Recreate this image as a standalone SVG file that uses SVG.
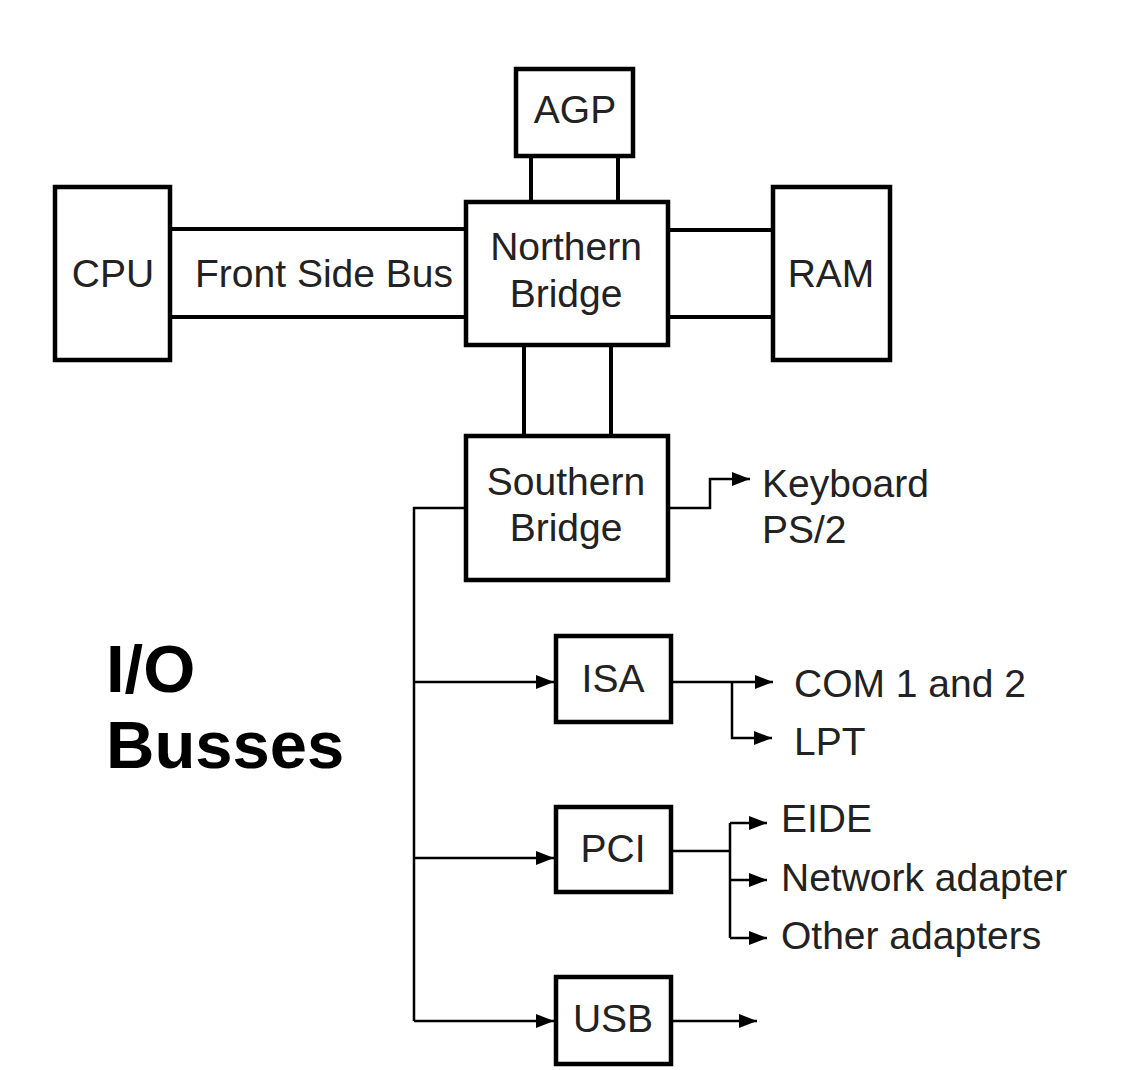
<svg xmlns="http://www.w3.org/2000/svg" width="1123" height="1070" viewBox="0 0 1123 1070">
<style>
.box{fill:#fff;stroke:#000;stroke-width:4.5}
.t{font-family:"Liberation Sans",Arial,sans-serif;font-size:39px;fill:#222}
.c{text-anchor:middle}
.thick{stroke:#000;stroke-width:4;fill:none}
.thin{stroke:#000;stroke-width:2.5;fill:none}
.arr{marker-end:url(#ah)}
.big{font-family:"Liberation Sans",Arial,sans-serif;font-size:67px;font-weight:bold;fill:#000}
</style>
<defs>
<marker id="ah" viewBox="0 0 18 14" refX="18" refY="7" markerWidth="18" markerHeight="14" markerUnits="userSpaceOnUse" orient="auto">
<path d="M0,0 L18,7 L0,14 z" fill="#000"/>
</marker>
</defs>
<rect width="1123" height="1070" fill="#fff"/>
<g id="connectors">
<line class="thick" x1="531" y1="157" x2="531" y2="201"/>
<line class="thick" x1="618" y1="157" x2="618" y2="201"/>
<line class="thick" x1="171" y1="229" x2="465" y2="229"/>
<line class="thick" x1="171" y1="317" x2="465" y2="317"/>
<line class="thick" x1="669" y1="230" x2="772" y2="230"/>
<line class="thick" x1="669" y1="317" x2="772" y2="317"/>
<line class="thick" x1="524" y1="346" x2="524" y2="435"/>
<line class="thick" x1="611" y1="346" x2="611" y2="435"/>
<path class="thin" d="M464 508 H414 V1021"/>
<path class="thin arr" d="M414 1021 H554"/>
<path class="thin arr" d="M414 682 H554"/>
<path class="thin arr" d="M414 858 H554"/>
<path class="thin arr" d="M670 508 H710 V479 H750"/>
<path class="thin arr" d="M673 682 H773"/>
<path class="thin arr" d="M732 682 V738 H772"/>
<path class="thin" d="M673 851 H730 M730 823 V938"/>
<path class="thin arr" d="M730 823 H767"/>
<path class="thin arr" d="M730 880 H767"/>
<path class="thin arr" d="M730 938 H767"/>
<path class="thin arr" d="M673 1021 H757"/>
</g>
<g id="agp"><rect class="box" x="516" y="69" width="117" height="87"/><text class="t c" x="575" y="123">AGP</text></g>
<g id="cpu"><rect class="box" x="55" y="187" width="115" height="173"/><text class="t c" x="113" y="287">CPU</text></g>
<g id="fsb-label"><text class="t c" x="324" y="287">Front Side Bus</text></g>
<g id="northbridge"><rect class="box" x="466" y="202" width="202" height="143"/><text class="t c" x="566" y="260">Northern</text><text class="t c" x="566" y="307">Bridge</text></g>
<g id="ram"><rect class="box" x="773" y="187" width="117" height="173"/><text class="t c" x="831" y="287">RAM</text></g>
<g id="southbridge"><rect class="box" x="466" y="436" width="202" height="144"/><text class="t c" x="566" y="495">Southern</text><text class="t c" x="566" y="541">Bridge</text></g>
<g id="keyboard"><text class="t" x="762" y="497">Keyboard</text><text class="t" x="762" y="543">PS/2</text></g>
<g id="isa"><rect class="box" x="556" y="636" width="115" height="86"/><text class="t c" x="613" y="692">ISA</text></g>
<g id="com"><text class="t" x="794" y="697">COM 1 and 2</text></g>
<g id="lpt"><text class="t" x="794" y="755">LPT</text></g>
<g id="pci"><rect class="box" x="556" y="807" width="115" height="85"/><text class="t c" x="613" y="862">PCI</text></g>
<g id="eide"><text class="t" x="781" y="832">EIDE</text></g>
<g id="network"><text class="t" x="781" y="891">Network adapter</text></g>
<g id="other"><text class="t" x="781" y="949">Other adapters</text></g>
<g id="usb"><rect class="box" x="556" y="977" width="115" height="87"/><text class="t c" x="613" y="1032">USB</text></g>
<g id="title"><text class="big" x="106" y="692">I/O</text><text class="big" x="106" y="768">Busses</text></g>
</svg>
